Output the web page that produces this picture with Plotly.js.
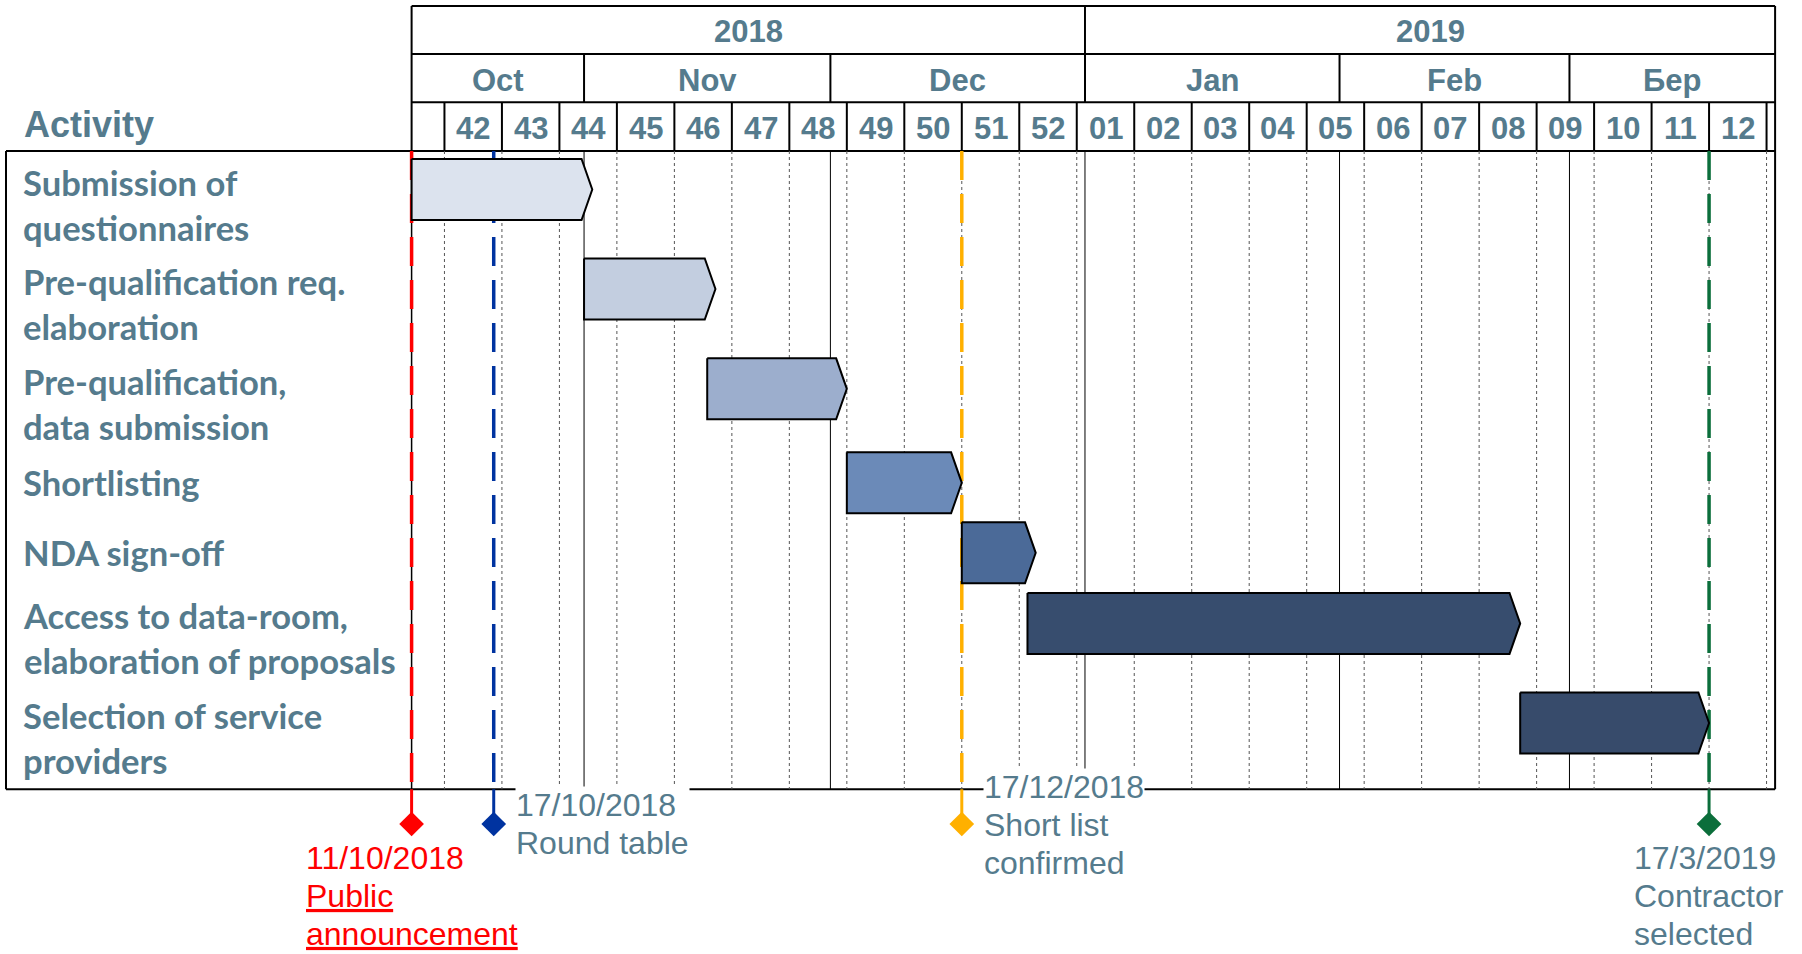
<!DOCTYPE html>
<html><head><meta charset="utf-8">
<script src="https://cdn.plot.ly/plotly-3.0.1.min.js"></script>
<style>html,body{margin:0;padding:0;background:#fff}#chart{width:1802px;height:954px}</style>
</head><body><div id="chart"></div>
<script>
// ---------------- data ----------------
const tasks = ['Submission of<br>questionnaires', 'Pre-qualification req.<br>elaboration',
  'Pre-qualification,<br>data submission', 'Shortlisting', 'NDA sign-off',
  'Access to data-room,<br>elaboration of proposals', 'Selection of service<br>providers'];
const taskStart = ['2018-10-11', '2018-11-01', '2018-11-16', '2018-12-03', '2018-12-17', '2018-12-25', '2019-02-23'];
const taskEnd   = ['2018-11-02', '2018-11-17', '2018-12-03', '2018-12-17', '2018-12-26', '2019-02-23', '2019-03-18'];

const milestoneDate = ['2018-10-11', '2018-10-21', '2018-12-17', '2019-03-18'];
const milestoneDateLabel = ['11/10/2018', '17/10/2018', '17/12/2018', '17/3/2019'];
const milestoneText = [['Public', 'announcement'], ['Round table'], ['Short list', 'confirmed'], ['Contractor', 'selected']];
const milestoneUnderline = [true, false, false, false];

const years = ['2018', '2019'];
const yearBounds = ['2018-10-11', '2019-01-01', '2019-03-26 01:00'];
const months = ['Oct', 'Nov', 'Dec', 'Jan', 'Feb', 'Бер'];
const monthBounds = ['2018-10-11', '2018-11-01', '2018-12-01', '2019-01-01', '2019-02-01', '2019-03-01', '2019-03-26 01:00'];
const weeks = ['42', '43', '44', '45', '46', '47', '48', '49', '50', '51', '52',
  '01', '02', '03', '04', '05', '06', '07', '08', '09', '10', '11', '12'];
const weekStarts = ['2018-10-15', '2018-10-22', '2018-10-29', '2018-11-05', '2018-11-12', '2018-11-19', '2018-11-26',
  '2018-12-03', '2018-12-10', '2018-12-17', '2018-12-24', '2018-12-31', '2019-01-07', '2019-01-14', '2019-01-21',
  '2019-01-28', '2019-02-04', '2019-02-11', '2019-02-18', '2019-02-25', '2019-03-04', '2019-03-11', '2019-03-18',
  '2019-03-25'];

// ---------------- layout / style ----------------
const W = 1802, H = 954;
const PX = {left: 411.6, right: 1775.1, boxLeft: 6, headTop: 6, yearBot: 54, monthBot: 102.3,
  headBot: 151, bodyBot: 789.3, diamondY: 824};
const ROW_Y = [189.5, 289, 388.8, 482.8, 552.8, 623.4, 723];
const BAR_HALF = 30.5;
const TIP_DAYS = 1.3;
const BAR_COLORS = ['#DCE3EE', '#C3CEE0', '#9CAECD', '#6B8AB8', '#4B6A98', '#374D6E', '#374B6B'];
const MS_COLORS = ['#FF0000', '#0033A0', '#FFB000', '#0B6E3B'];
const MS_TEXT_COLORS = ['#FF0000', '#557B8D', '#557B8D', '#557B8D'];
const MS_ANCHOR = ['center', 'left', 'left', 'center'];
const MS_XSHIFT = [0, 21, 21, 0];
const MS_TOP = [839, 786, 768, 839];
const TXT = '#557B8D';
const ARIAL = 'Liberation Sans, Arial, sans-serif';
const CALIBRI = 'Lato, Carlito, Calibri, sans-serif';

function ms(s) {
  const [d, t] = s.split(' ');
  const [Y, M, D] = d.split('-').map(Number);
  let h = 0, m = 0;
  if (t) { [h, m] = t.split(':').map(Number); }
  return Date.UTC(Y, M - 1, D, h, m);
}
const DAY = 86400000;
const t0 = ms(yearBounds[0]), t1 = ms(yearBounds[yearBounds.length - 1]);
const msPerPx = (t1 - t0) / (PX.right - PX.left);
const xRange = [t0 - PX.left * msPerPx, t0 + (W - PX.left) * msPerPx];

const traces = [];
tasks.forEach((t, i) => {
  const s = ms(taskStart[i]), e = ms(taskEnd[i]), f = e - TIP_DAYS * DAY;
  const c = ROW_Y[i];
  traces.push({
    type: 'scatter', mode: 'lines', fill: 'toself', fillcolor: BAR_COLORS[i],
    x: [s, f, e, f, s, s], y: [c - BAR_HALF, c - BAR_HALF, c, c + BAR_HALF, c + BAR_HALF, c - BAR_HALF],
    line: {color: '#000', width: 2}, hoverinfo: 'skip', showlegend: false
  });
});
traces.push({
  type: 'scatter', mode: 'markers', x: milestoneDate.map(ms), y: milestoneDate.map(() => PX.diamondY),
  marker: {symbol: 'diamond', size: 19, color: MS_COLORS, line: {width: 0}},
  hoverinfo: 'skip', showlegend: false, cliponaxis: false
});

const shapes = [];
function vline(x, y0, y1, color, width, dash, xref) {
  shapes.push({type: 'line', xref: xref || 'x', yref: 'y', x0: x, x1: x, y0: y0, y1: y1, layer: 'below',
    line: {color: color, width: width, dash: dash || 'solid'}});
}
function hline(x0, x1, y, color, width, xref) {
  shapes.push({type: 'line', xref: xref || 'x', yref: 'y', x0: x0, x1: x1, y0: y, y1: y, layer: 'below',
    line: {color: color, width: width}});
}
// body grid
weekStarts.forEach(w => vline(ms(w), PX.headBot, PX.bodyBot, '#555', 1, '3px,3px'));
monthBounds.slice(1, -1).forEach(m => vline(ms(m), PX.headBot, PX.bodyBot, '#000', 1));
vline(t0, PX.headBot, PX.bodyBot, '#000', 1.5);
// milestone lines
milestoneDate.forEach((d, i) => {
  vline(ms(d), PX.headBot, PX.bodyBot, MS_COLORS[i], 3.5, '29px,14px');
  vline(ms(d), PX.bodyBot, PX.diamondY, MS_COLORS[i], 3);
});
// body box
hline(PX.boxLeft / W, PX.right / W, PX.headBot, '#000', 2, 'paper');
hline(PX.boxLeft / W, PX.right / W, PX.bodyBot, '#000', 2, 'paper');
vline(PX.boxLeft / W, PX.headBot, PX.bodyBot, '#000', 2, null, 'paper');
vline(t1, PX.headBot, PX.bodyBot, '#000', 2);
// header
[PX.headTop, PX.yearBot, PX.monthBot].forEach(y => hline(t0, t1, y, '#000', 2));
vline(t0, PX.headTop, PX.headBot, '#000', 2);
vline(t1, PX.headTop, PX.headBot, '#000', 2);
yearBounds.slice(1, -1).forEach(b => vline(ms(b), PX.headTop, PX.monthBot, '#000', 2));
monthBounds.slice(1, -1).forEach(b => vline(ms(b), PX.yearBot, PX.monthBot, '#000', 2));
weekStarts.forEach(b => vline(ms(b), PX.monthBot, PX.headBot, '#000', 2));

const annotations = [];
function hdr(text, a, b, y, size) {
  annotations.push({xref: 'x', yref: 'y', x: (ms(a) + ms(b)) / 2, y: y, text: '<b>' + text + '</b>',
    showarrow: false, xanchor: 'center', yanchor: 'middle',
    font: {family: ARIAL, size: size, color: TXT}});
}
years.forEach((t, i) => hdr(t, yearBounds[i], yearBounds[i + 1], 31, 31));
months.forEach((t, i) => hdr(t, monthBounds[i], monthBounds[i + 1], 80, 31));
weeks.forEach((t, i) => hdr(t, weekStarts[i], weekStarts[i + 1], 128, 31));
annotations.push({xref: 'paper', yref: 'y', x: 22 / W, y: 124, text: '<b>Activity</b>', showarrow: false,
  xanchor: 'left', yanchor: 'middle', font: {family: ARIAL, size: 36, color: TXT}});
tasks.forEach((t, i) => {
  const two = t.indexOf('<br>') >= 0;
  annotations.push({xref: 'paper', yref: 'y', x: 21 / W, y: ROW_Y[i] + (two ? 15 : 0),
    text: t.split('<br>').map(l => '<b>' + l + '</b>').join('<br>'), showarrow: false,
    xanchor: 'left', yanchor: 'middle', align: 'left',
    font: {family: CALIBRI, size: 34.6, color: TXT}});
});
// milestone labels: glyphs at 32px, line pitch from the smaller base size
milestoneDate.forEach((d, i) => {
  const lines = [milestoneDateLabel[i]].concat(milestoneText[i].map(l => milestoneUnderline[i] ? '<u>' + l + '</u>' : l));
  annotations.push({xref: 'x', yref: 'y', x: ms(d), y: MS_TOP[i], xshift: MS_XSHIFT[i],
    text: lines.map(l => '<span style="font-size:32px">' + l + '</span>').join('<br>'), showarrow: false,
    xanchor: MS_ANCHOR[i], yanchor: 'top', align: 'left', bgcolor: '#fff', borderpad: 0,
    font: {family: ARIAL, size: 29.2, color: MS_TEXT_COLORS[i]}});
});

const layout = {
  width: W, height: H, autosize: false,
  margin: {l: 0, r: 0, t: 0, b: 0, pad: 0},
  paper_bgcolor: '#fff', plot_bgcolor: '#fff',
  xaxis: {type: 'date', range: xRange, visible: false, fixedrange: true},
  yaxis: {range: [H, 0], visible: false, fixedrange: true},
  shapes: shapes, annotations: annotations, showlegend: false
};
Plotly.newPlot('chart', traces, layout, {staticPlot: true, displayModeBar: false});
</script>
</body></html>
